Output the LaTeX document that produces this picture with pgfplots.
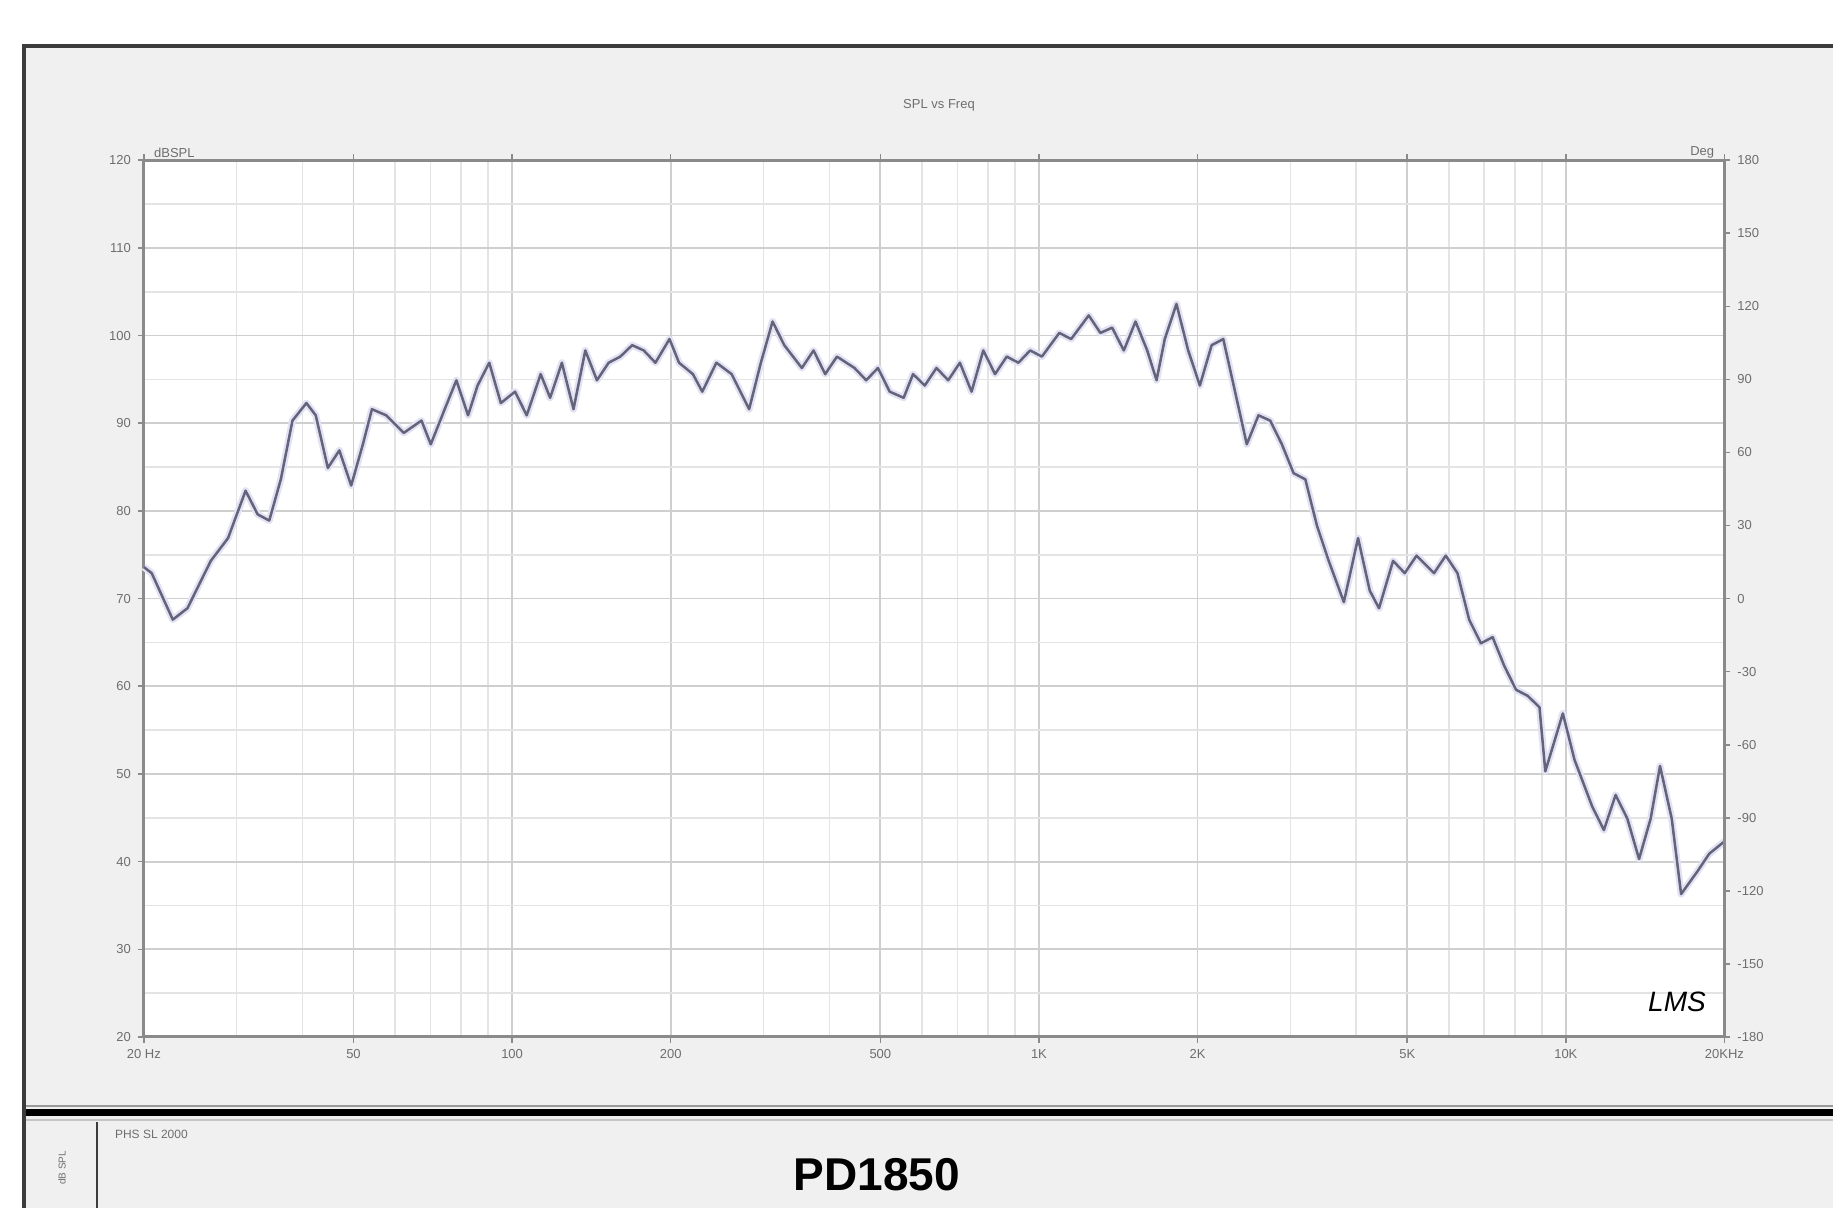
\documentclass[border=0pt]{standalone}
\usepackage{fontspec}
\setmainfont{Liberation Sans}
\usepackage{pgfplots}
\usepackage{pgfplotstable}
\pgfplotsset{compat=1.18}

\definecolor{panel}{HTML}{F0F0F0}
\definecolor{frameline}{HTML}{3C3C3C}
\definecolor{axisgray}{HTML}{8A8A8A}
\definecolor{gridmaj}{HTML}{CFCFCF}
\definecolor{gridmin}{HTML}{E4E4E4}
\definecolor{trace}{HTML}{63637A}
\definecolor{halo}{HTML}{E2E2F4}
\definecolor{labgray}{HTML}{6E6E6E}

% SPL vs frequency
\pgfplotstableread{
f      db
20     73.6
20.7   72.9
22.7   67.6
24.2   68.9
26.8   74.3
28.9   76.9
31.2   82.3
32.9   79.6
34.6   78.9
36.4   83.6
38.3   90.3
40.7   92.3
42.4   90.9
44.7   84.9
47.0   86.9
49.5   82.9
52.1   87.6
54.2   91.6
57.7   90.9
62.3   88.9
67.3   90.3
70.1   87.6
74.5   91.6
78.4   94.9
82.5   90.9
86.0   94.3
90.5   96.9
95.2   92.3
101.3  93.6
106.6  90.9
113.3  95.6
118.1  92.9
124.3  96.9
130.8  91.6
137.7  98.3
144.9  94.9
152.5  96.9
160.5  97.6
169.0  98.9
177.8  98.3
187.1  96.9
199.0  99.6
207.4  96.9
220.4  95.6
229.6  93.6
244.2  96.9
261.0  95.6
281.8  91.6
296.6  96.9
312.2  101.6
328.6  98.9
354.8  96.3
373.4  98.3
393.0  95.6
413.6  97.6
446.6  96.3
470.0  94.9
494.8  96.3
520.8  93.6
553.6  92.9
576.8  95.6
607.2  94.3
639.0  96.3
672.6  94.9
707.8  96.9
745.0  93.6
784.2  98.3
825.4  95.6
868.6  97.6
914.2  96.9
962.2  98.3
1013   97.6
1093   100.3
1151   99.6
1243   102.3
1308   100.3
1377   100.9
1449   98.3
1525   101.6
1605   98.3
1672   94.9
1733   99.6
1824   103.6
1920   98.3
2020   94.3
2127   98.9
2238   99.6
2356   93.6
2480   87.6
2610   90.9
2747   90.3
2891   87.6
3043   84.3
3203   83.6
3371   78.3
3548   74.3
3791   69.6
4033   76.9
4245   70.9
4420   68.9
4700   74.3
4947   72.9
5207   74.9
5622   72.9
5917   74.9
6228   72.9
6555   67.6
6900   64.9
7262   65.6
7644   62.3
8046   59.6
8468   58.9
8913   57.6
9142   50.3
9870   56.9
10389  51.6
11220  46.3
11810  43.6
12430  47.6
13084  44.9
13772  40.3
14488  44.9
15094  50.9
15886  44.9
16552  36.3
17780  38.9
18714  40.9
20000  42.3
}\spl

\begin{document}
\begin{tikzpicture}
% page: 1833 x 1208 px at 0.5pt per px
\path[use as bounding box] (0,0) rectangle (916.5pt,604pt);
\begin{scope}[x=0.5pt,y=0.5pt]
  \fill[panel] (26,0) rectangle (1833,1162);
  \draw[frameline,line width=1.6pt] (24,0) -- (24,1162) -- (1833,1162);
  % separator of the title block
  \draw[gray!80,line width=1.2pt] (26,102) -- (1833,102);
  \draw[black,line width=3.5pt] (26,95) -- (1833,95);
  \draw[gray!45,line width=1.2pt] (26,88) -- (1833,88);
  \draw[frameline,line width=0.9pt] (97,0) -- (97,86);
  \node[rotate=90,font=\fontsize{5}{6}\selectfont,text=labgray] at (62,40) {dB SPL};
  \node[anchor=west,font=\fontsize{6}{7}\selectfont,text=labgray] at (108,74) {PHS SL 2000};
  \node[font=\fontsize{23}{26}\selectfont\bfseries] at (877,33) {PD1850};
  % chart title
  \node[font=\fontsize{6.5}{8}\selectfont,text=labgray] at (939,1103) {SPL vs Freq};
\end{scope}

\begin{axis}[
  at={(71.9pt,85.5pt)}, anchor=south west,
  width=790.3pt, height=438.4pt, scale only axis,
  xmode=log, xmin=20, xmax=20000, ymin=20, ymax=120,
  log basis x=10,
  xtick={20,50,100,200,500,1000,2000,5000,10000,20000},
  xticklabels={20 Hz,50,100,200,500,1K,2K,5K,10K,20KHz},
  minor xtick={30,40,60,70,80,90,300,400,600,700,800,900,3000,4000,6000,7000,8000,9000},
  ytick={20,30,...,120},
  minor ytick={25,35,...,115},
  grid=both,
  major grid style={gridmaj,line width=0.9pt},
  minor grid style={gridmin,line width=0.8pt},
  axis line style={axisgray,line width=1.5pt},
  tick style={axisgray,line width=0.8pt},
  tick align=outside, major tick length=3pt, minor tick length=0pt,
  axis background/.style={fill=white},
  /pgf/number format/assume math mode=true,
  ticklabel style={font=\fontsize{6.5}{8}\selectfont,text=labgray},
  xticklabel style={text height=1.6ex,text depth=0.3ex,yshift=4pt},
  axis y line*=left,
  axis x line*=box,
  clip=false,
]
  \addplot[halo,line width=3.5pt,line join=round] table {\spl};
  \addplot[trace,line width=1.25pt,line join=round] table {\spl};
  \node[anchor=south west,font=\fontsize{6.5}{8}\selectfont,text=labgray,inner sep=1pt] at (rel axis cs:0.005,1) {dBSPL};
  \node[anchor=south east,font=\fontsize{6.5}{8}\selectfont,text=labgray,inner sep=1pt] at (rel axis cs:0.995,1) {Deg};
  \node[font=\fontsize{14}{16}\selectfont\itshape\rmfamily] at (rel axis cs:0.97,0.04) {LMS};
\end{axis}

\begin{axis}[
  at={(71.9pt,85.5pt)}, anchor=south west,
  width=790.3pt, height=438.4pt, scale only axis,
  xmode=log, xmin=20, xmax=20000,
  ymin=-180, ymax=180,
  ytick={-180,-150,...,180},
  axis x line=none,
  axis y line*=right,
  axis line style={axisgray,line width=1.5pt},
  tick style={axisgray,line width=0.8pt},
  tick align=outside, major tick length=3pt,
  /pgf/number format/assume math mode=true,
  ticklabel style={font=\fontsize{6.5}{8}\selectfont,text=labgray},
]
\end{axis}
\end{tikzpicture}
\end{document}
